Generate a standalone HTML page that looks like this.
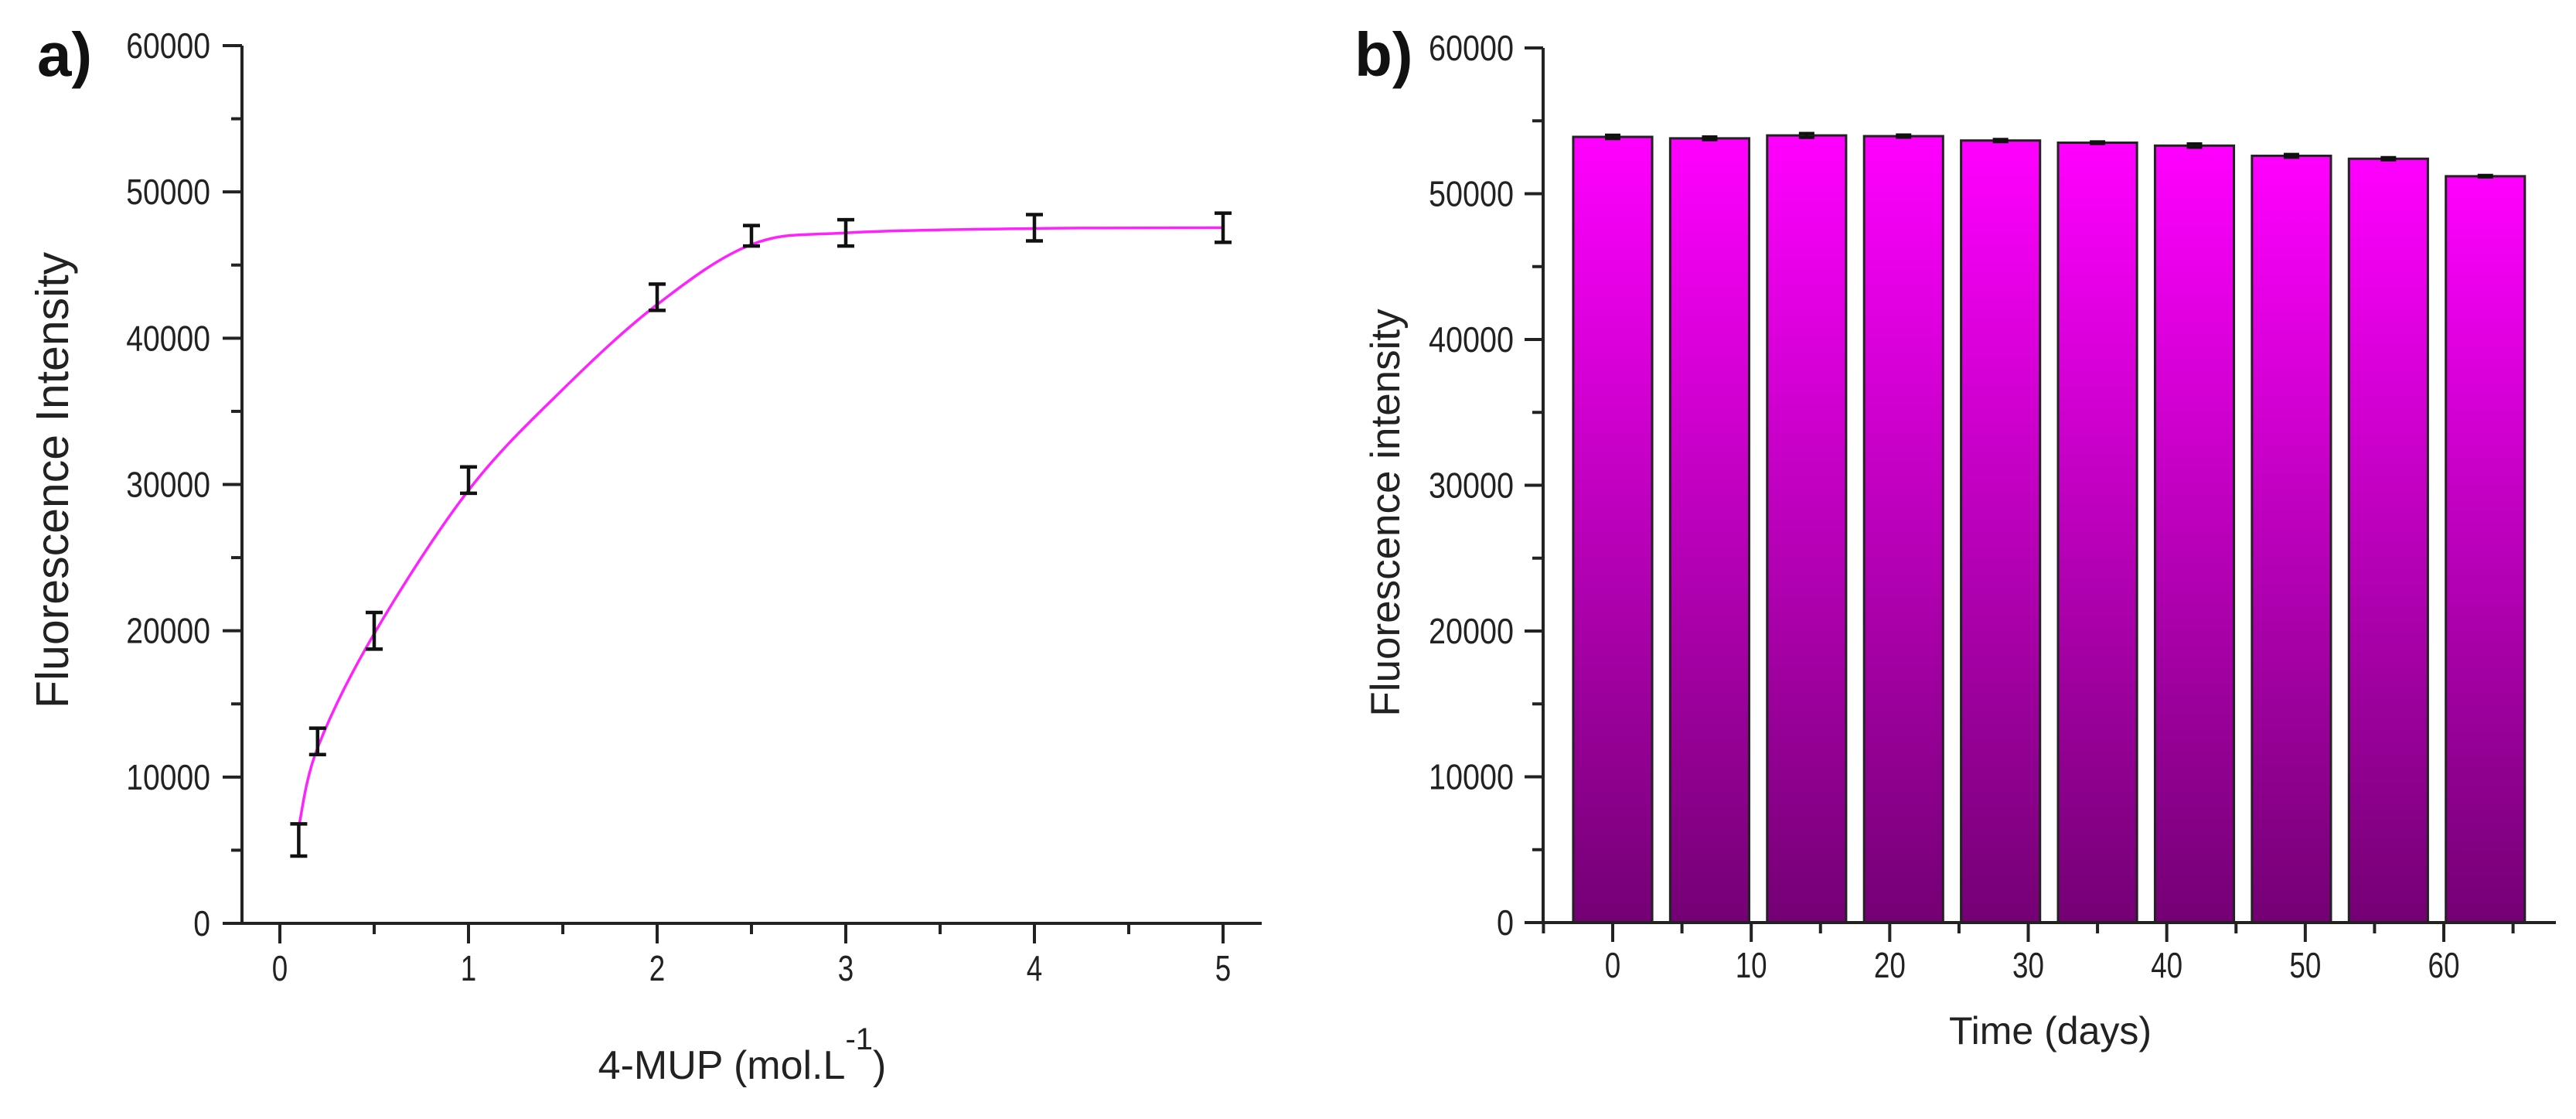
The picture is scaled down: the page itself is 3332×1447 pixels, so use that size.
<!DOCTYPE html>
<html><head><meta charset="utf-8"><style>
html,body{margin:0;padding:0;background:#fff;overflow:hidden}
svg{display:block}
text{font-family:"Liberation Sans",Arial,sans-serif;fill:#222}
</style></head><body>
<svg id="fig" width="3332" height="1447" viewBox="0 0 3332 1447" xmlns="http://www.w3.org/2000/svg">
<defs>
<linearGradient id="barGrad" x1="0" y1="0" x2="0" y2="1">
<stop offset="0" stop-color="#ff00ff"/><stop offset="1" stop-color="#740074"/>
</linearGradient>
</defs>
<g id="pa"></g>
<g id="pb"></g>
</svg>
<script>
// Panel a data
const aX = [0.1, 0.2, 0.5, 1, 2, 2.5, 3, 4, 5];
const aY = [5700, 12440, 20000, 30300, 42800, 47000, 47200, 47550, 47550];
const aErr = [1100, 900, 1250, 900, 900, 700, 900, 900, 1000];
const fitX = [0.1, 0.2, 0.5, 1, 1.5, 2, 2.5, 3, 4, 5];
const fitY = [6600, 12000, 19800, 29600, 36500, 42300, 46400, 47200, 47500, 47550];
const aXTicks = [0, 1, 2, 3, 4, 5];
const aYTicks = [0, 10000, 20000, 30000, 40000, 50000, 60000];
// Panel b data
const bDays = [0, 7, 14, 21, 28, 35, 42, 49, 56, 63];
const bVals = [53900, 53800, 54000, 53950, 53650, 53500, 53300, 52600, 52400, 51200];
const bErr = [120, 100, 140, 80, 80, 60, 120, 100, 80, 60];
const bXTicks = [0, 10, 20, 30, 40, 50, 60];
const bYTicks = [0, 10000, 20000, 30000, 40000, 50000, 60000];

const NS = "http://www.w3.org/2000/svg";
function mk(parent, tag, attrs, txt){
  const e = document.createElementNS(NS, tag);
  for (const k in attrs) e.setAttribute(k, attrs[k]);
  if (txt !== undefined) e.textContent = txt;
  parent.appendChild(e);
  return e;
}
let e;

// ---------- Panel a ----------
const pa = document.getElementById('pa');
const axL = 313, ayT = 59, ayB = 1194;
const xa = v => 362 + (1582 - 362) * v / 5;
const ya = v => ayB - (ayB - ayT) * v / 60000;
e = mk(pa, 'path', {d:`M${axL} ${ayT} V${ayB} M292 ${ayB} H1632`, fill:'none', stroke:'#222', 'stroke-width':4});


for (let v = 0; v <= 60000; v += 5000) {
  const major = v % 10000 === 0;
  e = mk(pa, 'line', {x1:axL - (major ? 25 : 14), x2:axL, y1:ya(v), y2:ya(v), stroke:'#222', 'stroke-width':4});
  
  
}
aYTicks.forEach(v => {
  e = mk(pa, 'text', {'text-anchor':'end', 'font-size':46, transform:`translate(272 ${ya(v) + 16}) scale(0.85 1)`}, String(v));
  
  
});
for (let v = 0; v <= 5; v += 0.5) {
  const major = v % 1 === 0;
  e = mk(pa, 'line', {x1:xa(v), x2:xa(v), y1:ayB, y2:ayB + (major ? 26 : 14), stroke:'#222', 'stroke-width':4});
  
  
}
aXTicks.forEach(v => {
  e = mk(pa, 'text', {'text-anchor':'middle', 'font-size':46, transform:`translate(${xa(v)} 1268) scale(0.8 1)`}, String(v));
  
  
});
(function(){
  const P = fitX.map((x, i) => [xa(x), ya(fitY[i])]);
  let d = `M${P[0][0]} ${P[0][1]}`;
  for (let i = 0; i < P.length - 1; i++) {
    const p0 = P[Math.max(0, i - 1)], p1 = P[i], p2 = P[i + 1], p3 = P[Math.min(P.length - 1, i + 2)];
    const c1 = [p1[0] + (p2[0] - p0[0]) / 6, p1[1] + (p2[1] - p0[1]) / 6];
    const c2 = [p2[0] - (p3[0] - p1[0]) / 6, p2[1] - (p3[1] - p1[1]) / 6];
    d += ` C${c1[0]} ${c1[1]} ${c2[0]} ${c2[1]} ${p2[0]} ${p2[1]}`;
  }
  e = mk(pa, 'path', {d:d, fill:'none', stroke:'#ff22ff', 'stroke-width':3.5});
  
  
})();
aX.forEach((x, i) => {
  const cx = xa(x), t = ya(aY[i] + aErr[i]), b = ya(aY[i] - aErr[i]);
  e = mk(pa, 'path', {d:`M${cx - 11} ${t} H${cx + 11} M${cx} ${t} V${b} M${cx - 11} ${b} H${cx + 11}`, stroke:'#111', 'stroke-width':4.5, fill:'none'});
  
  
});
e = mk(pa, 'text', {'text-anchor':'middle', 'font-size':59, transform:'translate(88 621) rotate(-90)'}, 'Fluorescence Intensity');


e = mk(pa, 'text', {x:960, y:1395, 'text-anchor':'middle', 'font-size':52});


e.innerHTML = '4-MUP (mol.L<tspan dy="-38" font-size="40">-1</tspan><tspan dy="38">)</tspan>';
e = mk(pa, 'text', {x:48, y:98, 'font-size':80, 'font-weight':'bold', style:'fill:#111'}, 'a)');



// ---------- Panel b ----------
const pb = document.getElementById('pb');
const bxL = 1996, byT = 62, byB = 1193;
const xb = d => 2086 + (3161 - 2086) * d / 60;
const yb = v => byB - (byB - byT) * v / 60000;
const bw = 5.7;
bDays.forEach((d, i) => {
  e = mk(pb, 'rect', {x:xb(d - bw / 2), y:yb(bVals[i]), width:xb(bw) - xb(0), height:byB - yb(bVals[i]), fill:'url(#barGrad)', stroke:'#222', 'stroke-width':3});
  
  
  const cx = xb(d), t = yb(bVals[i] + bErr[i]), b = yb(bVals[i] - bErr[i]);
  e = mk(pb, 'path', {d:`M${cx - 10} ${t} H${cx + 10} M${cx} ${t} V${b} M${cx - 10} ${b} H${cx + 10}`, stroke:'#111', 'stroke-width':4, fill:'none'});
  
  
});
e = mk(pb, 'path', {d:`M${bxL} ${byT} V${byB} M1974 ${byB} H3306`, fill:'none', stroke:'#222', 'stroke-width':4});


for (let v = 0; v <= 60000; v += 5000) {
  const major = v % 10000 === 0;
  e = mk(pb, 'line', {x1:bxL - (major ? 24 : 14), x2:bxL, y1:yb(v), y2:yb(v), stroke:'#222', 'stroke-width':4});
  
  
}
bYTicks.forEach(v => {
  e = mk(pb, 'text', {'text-anchor':'end', 'font-size':46, transform:`translate(1958 ${yb(v) + 16}) scale(0.86 1)`}, String(v));
  
  
});
for (let d = -5; d <= 65; d += 5) {
  const major = d % 10 === 0;
  e = mk(pb, 'line', {x1:xb(d), x2:xb(d), y1:byB, y2:byB + (major ? 25 : 14), stroke:'#222', 'stroke-width':4});
  
  
}
bXTicks.forEach(d => {
  e = mk(pb, 'text', {'text-anchor':'middle', 'font-size':46, transform:`translate(${xb(d)} 1264) scale(0.8 1)`}, String(d));
  
  
});
e = mk(pb, 'text', {'text-anchor':'middle', 'font-size':53, transform:'translate(1810 663) rotate(-90)'}, 'Fluorescence intensity');


e = mk(pb, 'text', {x:2652, y:1350, 'text-anchor':'middle', 'font-size':50}, 'Time (days)');


e = mk(pb, 'text', {x:1752, y:98, 'font-size':80, 'font-weight':'bold', style:'fill:#111'}, 'b)');


</script>
</body></html>
